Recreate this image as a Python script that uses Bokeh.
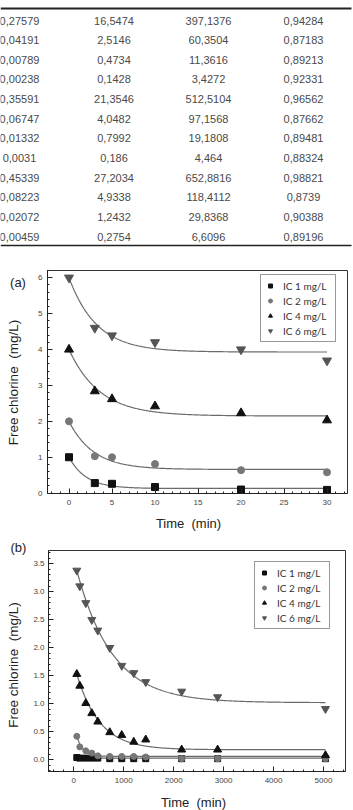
import numpy as np
from bokeh.plotting import figure
from bokeh.layouts import column, row
from bokeh.models import (Range1d, Legend, LegendItem, Title,
                          SingleIntervalTicker, NumeralTickFormatter)
from bokeh.embed import file_html
from bokeh.resources import INLINE
from bokeh.core.properties import value

# ---------------- table of decay constants ----------------
K_PER_MIN = ["0,27579", "0,04191", "0,00789", "0,00238", "0,35591", "0,06747",
             "0,01332", "0,0031", "0,45339", "0,08223", "0,02072", "0,00459"]
K_PER_HOUR = ["16,5474", "2,5146", "0,4734", "0,1428", "21,3546", "4,0482",
              "0,7992", "0,186", "27,2034", "4,9338", "1,2432", "0,2754"]
K_PER_DAY = ["397,1376", "60,3504", "11,3616", "3,4272", "512,5104", "97,1568",
             "19,1808", "4,464", "652,8816", "118,4112", "29,8368", "6,6096"]
R_SQUARED = ["0,94284", "0,87183", "0,89213", "0,92331", "0,96562", "0,87662",
             "0,89481", "0,88324", "0,98821", "0,8739", "0,90388", "0,89196"]

# ---------------- series names ----------------
SERIES = ["IC 1 mg/L", "IC 2 mg/L", "IC 4 mg/L", "IC 6 mg/L"]

# ---------------- panel (a): short-term decay ----------------
TIME_A = [0, 3, 5, 10, 20, 30]
A_IC1 = [1.00, 0.28, 0.26, 0.17, 0.10, 0.09]
A_IC2 = [2.00, 1.03, 1.00, 0.81, 0.64, 0.58]
A_IC4 = [4.00, 2.84, 2.62, 2.42, 2.23, 2.03]
A_IC6 = [6.00, 4.60, 4.39, 4.20, 4.00, 3.69]
# first-order fit: C(t) = C_inf + (C_start - C_inf) * exp(-k (t - t_start))
A_FIT_START = [1.00, 2.00, 4.00, 6.00]
A_FIT_INF = [0.13, 0.66, 2.15, 3.93]
A_FIT_K = [0.50, 0.35, 0.28, 0.31]

# ---------------- panel (b): long-term decay ----------------
TIME_B = [60, 120, 240, 360, 480, 720, 960, 1200, 1440, 2160, 2880, 5040]
B_IC1 = [0.04, 0.03, 0.03, 0.03, 0.03, 0.02, 0.02, 0.02, 0.02, 0.02, 0.02, 0.02]
B_IC2 = [0.42, 0.23, 0.16, 0.12, 0.07, 0.06, 0.06, 0.06, 0.05, 0.02, 0.02, 0.02]
B_IC4 = [1.53, 1.32, 1.01, 0.83, 0.68, 0.49, 0.44, 0.32, 0.36, 0.18, 0.18, 0.08]
B_IC6 = [3.38, 3.10, 2.80, 2.50, 2.31, 2.00, 1.68, 1.55, 1.39, 1.22, 1.12, 0.91]
B_FIT_START = [0.04, 0.42, 1.53, 3.38]
B_FIT_INF = [0.03, 0.06, 0.18, 1.02]
B_FIT_K = [0.005, 0.008, 0.0022, 0.0014]

Y_TITLE = "Free chlorine \u00a0(mg/L)"
X_TITLE = "Time \u00a0(min)"

FONT = "Liberation Sans"
INK = "#222222"
W = 353
SIDE_W = 30


def blank(width, height, top=0, bottom=0):
    """A figure whose data coordinates are its own pixels (y pointing down).
    `top`/`bottom` reserve the same borders as the neighbouring chart."""
    f = figure(width=width, height=height, x_range=Range1d(0, width),
               y_range=Range1d(height - bottom, top), x_axis_type=None, y_axis_type=None,
               output_backend="svg", toolbar_location=None,
               min_border_left=0, min_border_right=0,
               min_border_top=top, min_border_bottom=bottom)
    f.grid.visible = False
    f.outline_line_color = None
    return f


def put_text(f, x, y, txt, size="13px", angle=0.0, align="center"):
    f.text(x=[x], y=[y], text=[txt], angle=angle, text_align=align,
           text_baseline="middle", text_font=value(FONT), text_font_size=size,
           text_color=INK)


# ======================= table =======================
tbl = blank(W, 252)
col_centers = [19, 113.5, 208, 303]
row0, row_step = 20, 19.64
rows_y = [row0 + i * row_step for i in range(len(K_PER_MIN))]
for cx, col in zip(col_centers, [K_PER_MIN, K_PER_HOUR, K_PER_DAY, R_SQUARED]):
    tbl.text(x=[cx] * len(col), y=rows_y, text=col, text_align="center",
             text_baseline="middle", text_font=value(FONT),
             text_font_size="11px", text_color="#4a4a4a")
tbl.line(x=[0, 351], y=[8, 8], line_color=INK, line_width=2)
tbl.line(x=[0, 351], y=[245, 245], line_color=INK, line_width=1.6)


def style_axes(p, standoff_x, standoff_y):
    for ax in (p.xaxis[0], p.yaxis[0]):
        ax.major_tick_in = 5
        ax.major_tick_out = 0
        ax.minor_tick_in = 2
        ax.minor_tick_out = 0
        ax.axis_line_color = INK
        ax.major_tick_line_color = INK
        ax.minor_tick_line_color = INK
        ax.major_label_text_font = FONT
        ax.major_label_text_font_size = "8px"
        ax.major_label_text_color = "#444444"
    p.xaxis[0].major_label_standoff = standoff_x
    p.yaxis[0].major_label_standoff = standoff_y
    p.grid.visible = False
    p.outline_line_color = "#333333"
    p.outline_line_width = 1


MARKERS = ["square", "circle", "triangle", "inverted_triangle"]
COLORS = ["#111111", "#777777", "#111111", "#555555"]


def draw_panel(p, times, series, starts, infs, ks, sizes):
    items = []
    for name, ys, c0, cinf, k, mk, col, sz in zip(SERIES, series, starts, infs, ks,
                                                   MARKERS, COLORS, sizes):
        t0, t1 = times[0], times[-1]
        tt = np.linspace(t0, t1, 300)
        fit = cinf + (c0 - cinf) * np.exp(-k * (tt - t0))
        p.line(tt, fit, line_color="#6a6a6a", line_width=1.2)
        r = p.scatter(times, ys, marker=mk, size=sz, fill_color=col, line_color=col)
        items.append(LegendItem(label=name, renderers=[r]))
    return items


def add_legend(p, items, loc):
    leg = Legend(items=items, location=loc, padding=4, spacing=2, margin=0,
                 glyph_height=13, glyph_width=10, label_height=13, label_width=48,
                 label_standoff=8, label_text_font="Lato",
                 label_text_font_size="10px", label_text_color="#333333",
                 border_line_color="#333333", border_line_width=1,
                 background_fill_color="white", background_fill_alpha=1)
    p.add_layout(leg)


# ======================= panel (a) =======================
A_TOP, A_BOTTOM = 18, 18
pa = figure(width=W - SIDE_W, height=259, x_range=Range1d(-2.5, 32.38),
            y_range=Range1d(-0.01, 6.20), output_backend="svg", toolbar_location=None,
            min_border_left=17, min_border_right=6,
            min_border_top=A_TOP, min_border_bottom=A_BOTTOM)
pa.xaxis[0].ticker = SingleIntervalTicker(interval=5, num_minor_ticks=5)
pa.yaxis[0].ticker = SingleIntervalTicker(interval=1, num_minor_ticks=5)
style_axes(pa, 6, 5)
items_a = draw_panel(pa, TIME_A, [A_IC1, A_IC2, A_IC4, A_IC6],
                     A_FIT_START, A_FIT_INF, A_FIT_K, [7, 7, 9, 9])
add_legend(pa, items_a, (213, 151))

side_a = blank(SIDE_W, 259, A_TOP, A_BOTTOM)
put_text(side_a, 17.5, 30, "(a)")
put_text(side_a, 13, 130, Y_TITLE, size="13.5px", angle=np.pi / 2)

xt_a = blank(W, 25)
put_text(xt_a, 188, 12, X_TITLE)

# ======================= panel (b) =======================
B_TOP, B_BOTTOM = 14, 18
pb = figure(width=W - SIDE_W, height=253, x_range=Range1d(-507, 5441),
            y_range=Range1d(-0.209, 3.737), output_backend="svg", toolbar_location=None,
            min_border_left=17, min_border_right=8,
            min_border_top=B_TOP, min_border_bottom=B_BOTTOM)
pb.xaxis[0].ticker = SingleIntervalTicker(interval=1000, num_minor_ticks=5)
pb.yaxis[0].ticker = SingleIntervalTicker(interval=0.5, num_minor_ticks=5)
pb.yaxis[0].formatter = NumeralTickFormatter(format="0.0")
style_axes(pb, 6, 4)
items_b = draw_panel(pb, TIME_B, [B_IC1, B_IC2, B_IC4, B_IC6],
                     B_FIT_START, B_FIT_INF, B_FIT_K, [6, 6, 8, 8])
add_legend(pb, items_b, (206, 142))

side_b = blank(SIDE_W, 253, B_TOP, B_BOTTOM)
side_b.title = Title(text="(b)", align="left", offset=10, vertical_align="bottom",
                     standoff=-8, text_font=FONT, text_font_size="13px",
                     text_font_style="normal", text_color=INK)
put_text(side_b, 13, 128.5, Y_TITLE, size="13.5px", angle=np.pi / 2)

xt_b = blank(W, 21)
put_text(xt_b, 193, 13, X_TITLE)

layout = column(tbl, row(side_a, pa, spacing=0), xt_a,
                row(side_b, pb, spacing=0), xt_b, spacing=0)
open("out.html", "w").write(file_html(layout, INLINE))
